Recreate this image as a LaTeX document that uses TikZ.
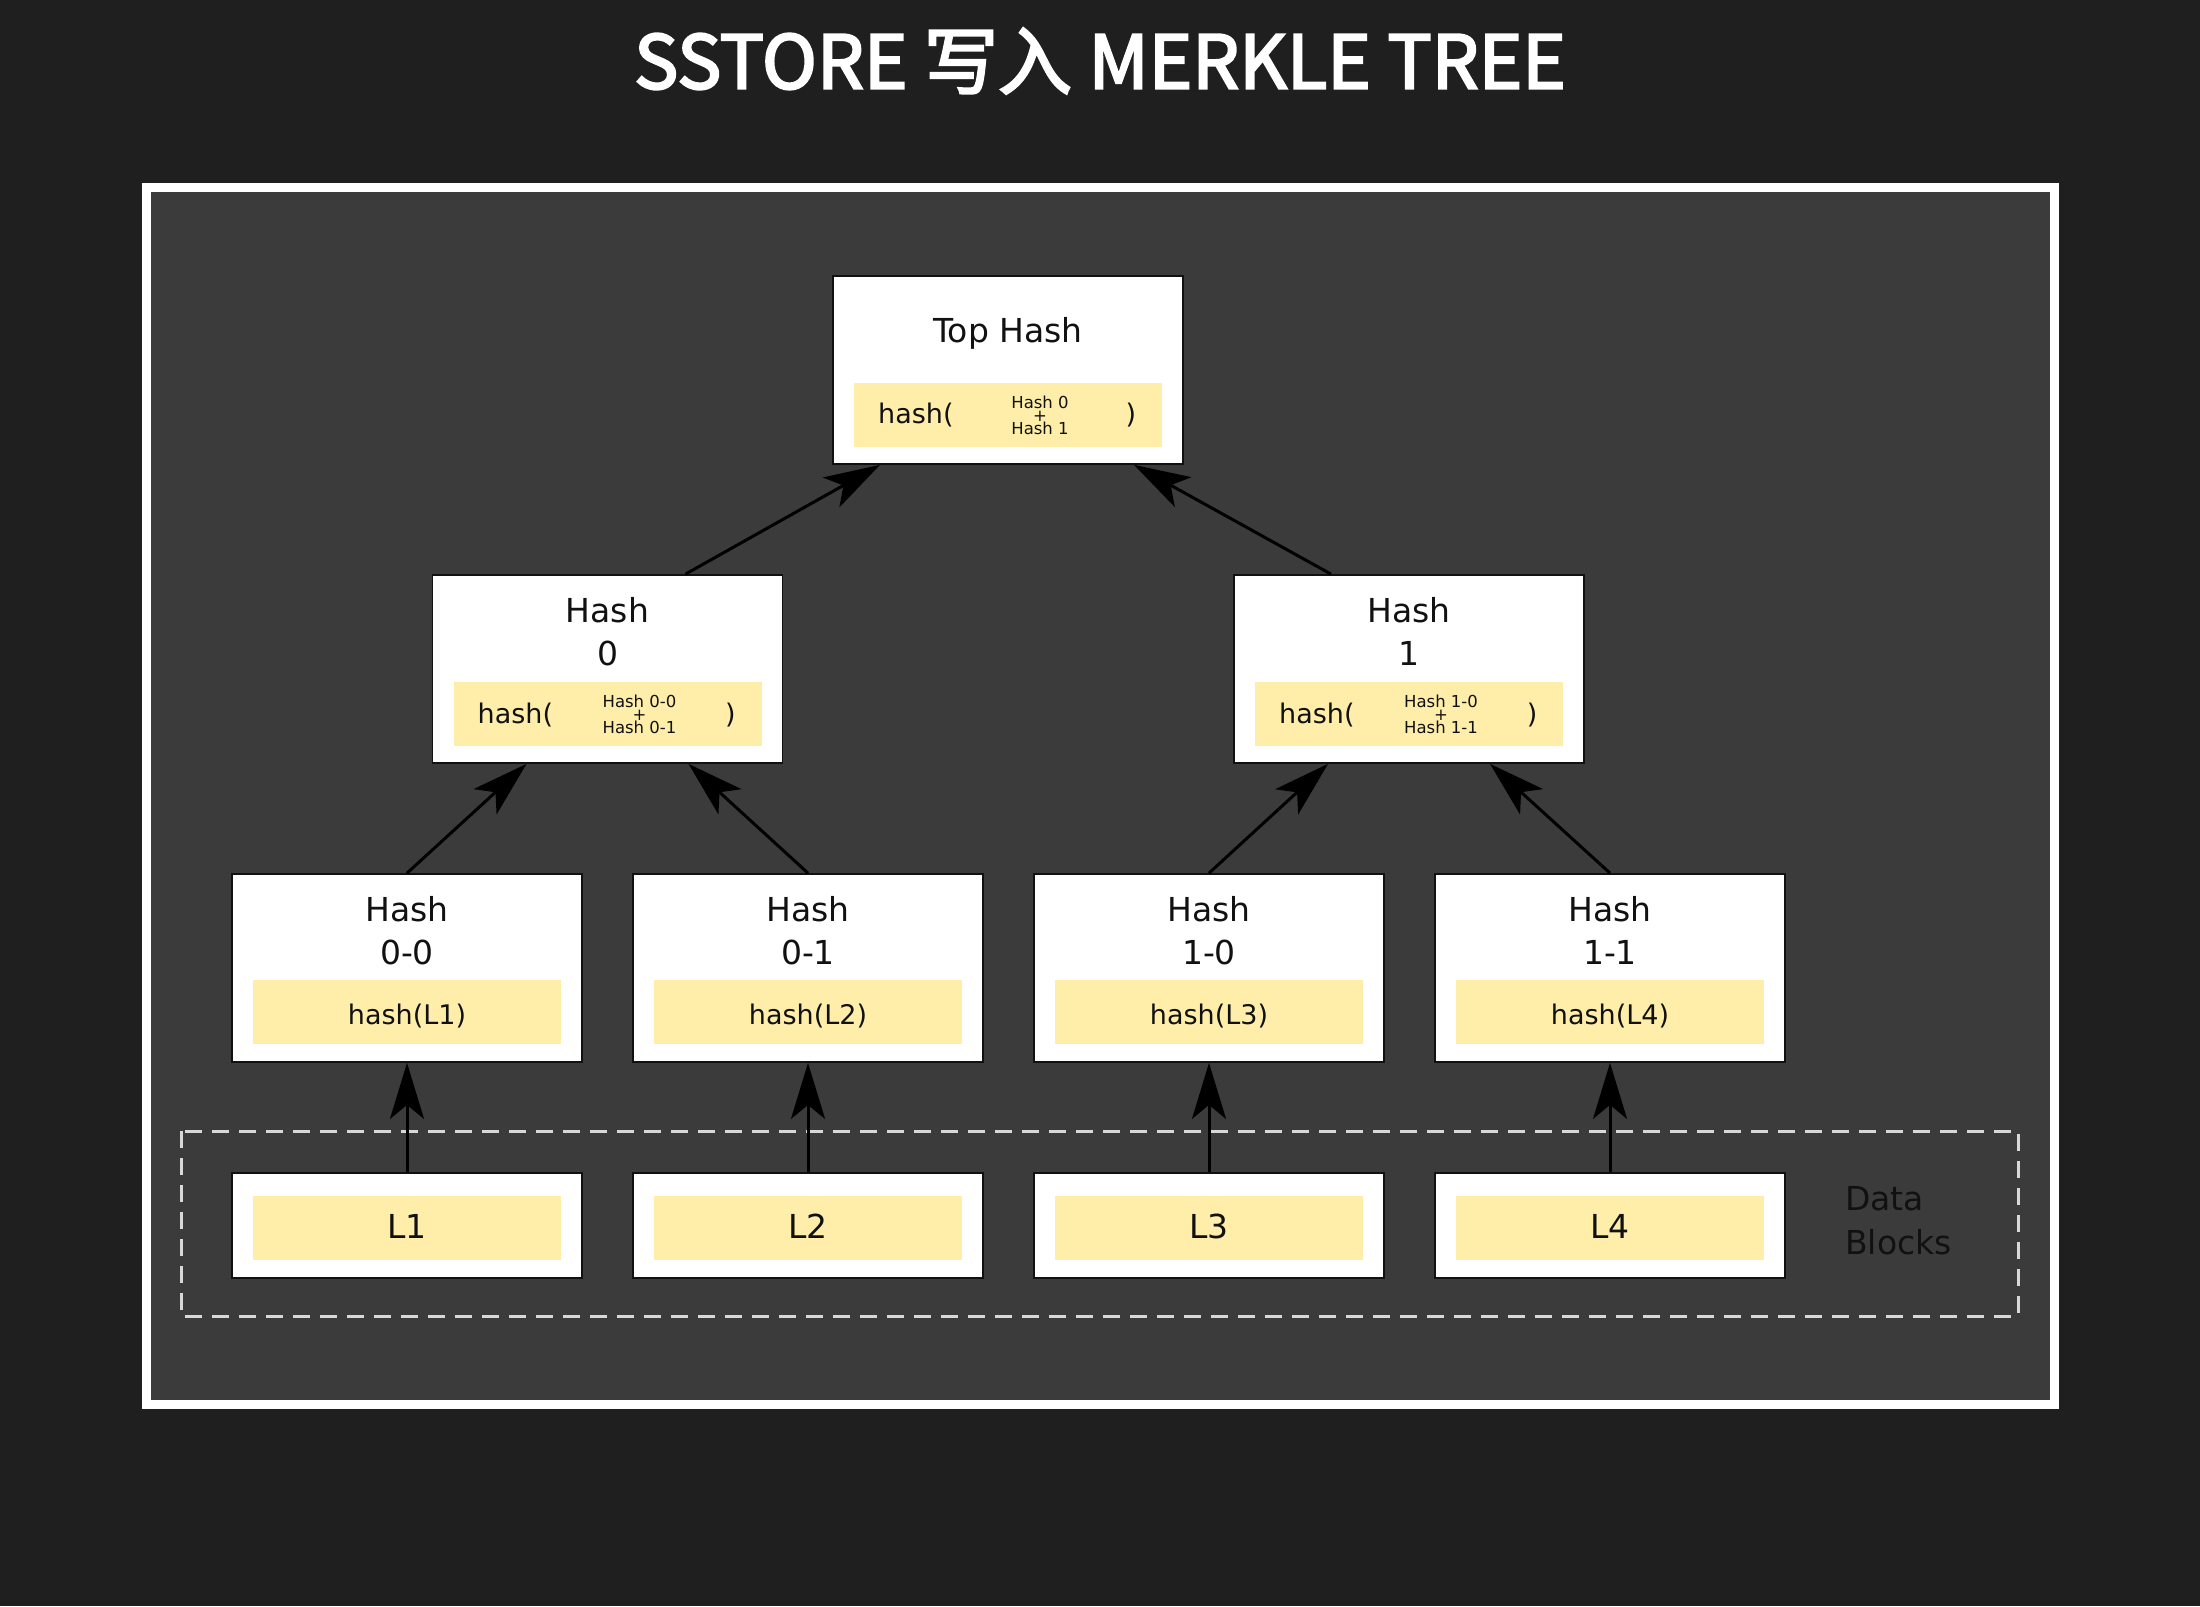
\documentclass[tikz,border=0pt]{standalone}
\usepackage{fontspec}
\setmainfont{DejaVu Sans}
\newfontfamily\cjk{Noto Sans CJK SC}[FakeBold=3]
\usetikzlibrary{arrows.meta}
\definecolor{bgdark}{HTML}{1F1F1F}
\definecolor{panel}{HTML}{3B3B3B}
\definecolor{band}{HTML}{FFEEAA}
\definecolor{dashcol}{HTML}{D8D8D8}
\definecolor{ink}{HTML}{111111}
\newcommand{\fs}[1]{\fontsize{#1}{#1}\selectfont}
\tikzset{
  hbox/.style={draw=ink, line width=1.8pt, fill=white, minimum width=350pt, minimum height=188pt, inner sep=0pt},
  dbox/.style={draw=ink, line width=1.8pt, fill=white, minimum width=350pt, minimum height=105pt, inner sep=0pt},
  yband/.style={fill=band, minimum width=308pt, minimum height=64pt, inner sep=0pt},
  big/.style={text=ink, inner sep=0pt, font=\fs{33}},
  mid/.style={text=ink, inner sep=0pt, font=\fs{27}},
  tiny/.style={text=ink, inner sep=0pt, font=\fs{16.5}},
  conn/.style={draw=black, line width=3pt, -{Stealth[length=56pt, width=34pt, inset=14pt]}}
}
\begin{document}
\begin{tikzpicture}[x=1pt, y=-1pt]
\useasboundingbox (0,0) rectangle (2200,1606);
\fill[bgdark] (0,0) rectangle (2200,1606);
\node[text=white, inner sep=0pt, font=\cjk\fs{74}] (title) at (1100,61) {SSTORE 写入 MERKLE TREE};
\draw[white, line width=9pt, fill=panel] (146,187) rectangle (2054,1404);
\draw[dashcol, line width=3pt, dash pattern=on 17pt off 10pt] (181,1131) rectangle (2018,1316);
% Top hash
\node[hbox] (top) at (1008,370) {};
\node[yband] (topb) at (1008,415) {};
\node[big] (toplbl) at (1008,333) {Top Hash};
\node[mid, anchor=west] (toph) at (878,415) {hash(};
\node[mid] (topp) at (1131,415) {)};
\node[tiny] (tops1) at (1040,402) {Hash 0};
\node[tiny] (tops2) at (1040,416) {+};
\node[tiny] (tops3) at (1040,428) {Hash 1};
% Mid level
\foreach \n/\c/\m/\a/\b in {h0/607.5/0/0-0/0-1, h1/1409/1/1-0/1-1}{
  \node[hbox] (\n) at (\c,669) {};
  \node[yband] (\n b) at (\c,714) {};
  \node[big] (\n l1) at (\c,610) {Hash};
  \node[big] (\n l2) at (\c,653) {\m};
  \node[mid, anchor=west] (\n h) at ({\c-130},715) {hash(};
  \node[mid] (\n p) at ({\c+123},715) {)};
  \node[tiny] (\n s1) at ({\c+32},701) {Hash \a};
  \node[tiny] (\n s2) at ({\c+32},715) {+};
  \node[tiny] (\n s3) at ({\c+32},727) {Hash \b};
}
% Leaves
\foreach \n/\c/\t/\k in {h00/407/0-0/1, h01/808/0-1/2, h10/1209/1-0/3, h11/1610/1-1/4}{
  \node[hbox] (\n) at (\c,968) {};
  \node[yband] (\n b) at (\c,1012) {};
  \node[big] (\n l1) at (\c,909) {Hash};
  \node[big] (\n l2) at (\c,952) {\t};
  \node[mid] (\n h) at (\c,1016) {hash(L\k)};
  \node[dbox] (L\k) at (\c,1225.5) {};
  \node[yband] (L\k b) at (\c,1228) {};
  \node[big] (L\k t) at (\c,1226) {L\k};
  \draw[conn] (L\k.north) -- (\n.south);
}
\node[text=ink, inner sep=0pt, font=\fs{33}, align=left, anchor=west] (dbl) at (1845,1221) {Data\\[11pt]Blocks};
% Connectors
\draw[conn] (h00.north) -- ([xshift=-81pt]h0.south);
\draw[conn] (h01.north) -- ([xshift=81pt]h0.south);
\draw[conn] (h10.north) -- ([xshift=-81pt]h1.south);
\draw[conn] (h11.north) -- ([xshift=81pt]h1.south);
\draw[conn] ([xshift=78pt]h0.north) -- ([xshift=-128pt]top.south);
\draw[conn] ([xshift=-78pt]h1.north) -- ([xshift=126pt]top.south);
\end{tikzpicture}
\end{document}
